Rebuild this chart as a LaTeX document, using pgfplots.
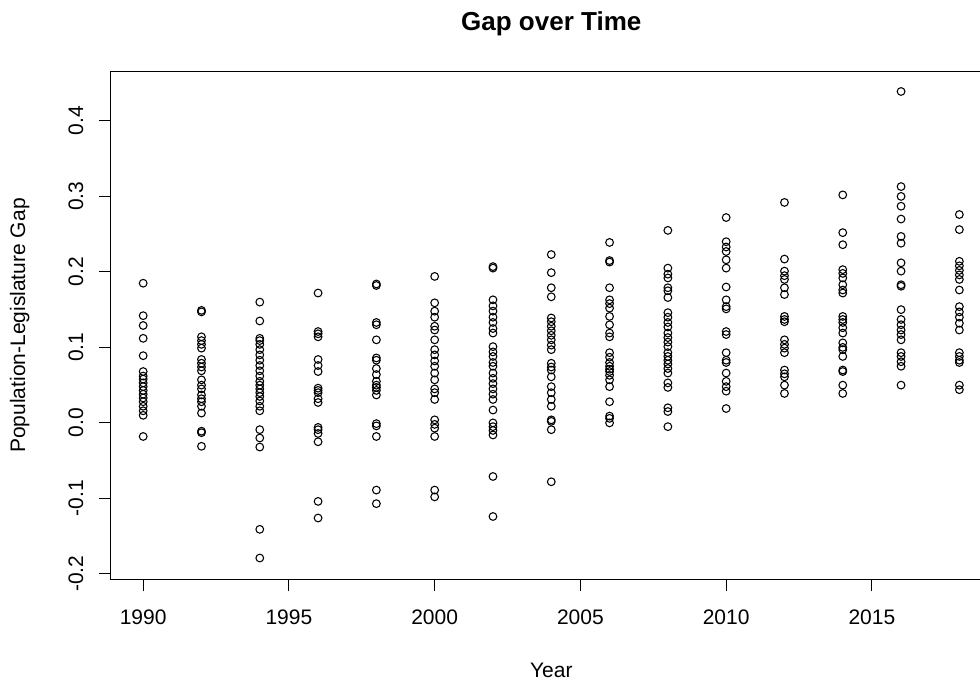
\documentclass[border=0pt]{standalone}
\usepackage{fontspec}
\setmainfont{Liberation Sans}
\usepackage{pgfplots}
\pgfplotsset{compat=1.18}
\usepackage{pgfplotstable}

\pgfplotstableread{
year gap
1990 0.185
1990 0.142
1990 0.129
1990 0.112
1990 0.089
1990 0.068
1990 0.062
1990 0.058
1990 0.053
1990 0.048
1990 0.043
1990 0.038
1990 0.033
1990 0.028
1990 0.022
1990 0.016
1990 0.010
1990 -0.018
1992 0.149
1992 0.147
1992 0.114
1992 0.109
1992 0.104
1992 0.099
1992 0.084
1992 0.079
1992 0.074
1992 0.069
1992 0.057
1992 0.050
1992 0.045
1992 0.037
1992 0.032
1992 0.028
1992 0.022
1992 0.013
1992 -0.011
1992 -0.013
1992 -0.031
1994 0.160
1994 0.135
1994 0.112
1994 0.109
1994 0.104
1994 0.097
1994 0.090
1994 0.083
1994 0.076
1994 0.069
1994 0.062
1994 0.055
1994 0.050
1994 0.045
1994 0.040
1994 0.035
1994 0.029
1994 0.022
1994 0.016
1994 -0.009
1994 -0.020
1994 -0.032
1994 -0.141
1994 -0.179
1996 0.172
1996 0.121
1996 0.118
1996 0.114
1996 0.084
1996 0.076
1996 0.068
1996 0.046
1996 0.043
1996 0.040
1996 0.032
1996 0.027
1996 -0.006
1996 -0.009
1996 -0.014
1996 -0.025
1996 -0.104
1996 -0.126
1998 0.184
1998 0.182
1998 0.133
1998 0.130
1998 0.110
1998 0.086
1998 0.083
1998 0.072
1998 0.064
1998 0.055
1998 0.050
1998 0.047
1998 0.043
1998 0.037
1998 -0.001
1998 -0.004
1998 -0.018
1998 -0.089
1998 -0.107
2000 0.194
2000 0.159
2000 0.148
2000 0.140
2000 0.128
2000 0.123
2000 0.110
2000 0.097
2000 0.090
2000 0.082
2000 0.075
2000 0.066
2000 0.057
2000 0.045
2000 0.040
2000 0.031
2000 0.004
2000 -0.002
2000 -0.007
2000 -0.018
2000 -0.089
2000 -0.098
2002 0.207
2002 0.205
2002 0.163
2002 0.155
2002 0.148
2002 0.140
2002 0.133
2002 0.125
2002 0.119
2002 0.101
2002 0.094
2002 0.088
2002 0.080
2002 0.075
2002 0.066
2002 0.059
2002 0.052
2002 0.045
2002 0.038
2002 0.031
2002 0.017
2002 0.000
2002 -0.005
2002 -0.010
2002 -0.016
2002 -0.071
2002 -0.124
2004 0.223
2004 0.199
2004 0.179
2004 0.167
2004 0.139
2004 0.134
2004 0.128
2004 0.122
2004 0.116
2004 0.110
2004 0.103
2004 0.097
2004 0.079
2004 0.074
2004 0.070
2004 0.061
2004 0.048
2004 0.040
2004 0.031
2004 0.022
2004 0.004
2004 0.002
2004 -0.009
2004 -0.078
2006 0.239
2006 0.215
2006 0.213
2006 0.179
2006 0.163
2006 0.158
2006 0.152
2006 0.141
2006 0.130
2006 0.119
2006 0.114
2006 0.093
2006 0.087
2006 0.080
2006 0.075
2006 0.071
2006 0.068
2006 0.063
2006 0.057
2006 0.048
2006 0.028
2006 0.009
2006 0.006
2006 0.000
2008 0.255
2008 0.205
2008 0.197
2008 0.192
2008 0.179
2008 0.175
2008 0.166
2008 0.146
2008 0.140
2008 0.133
2008 0.127
2008 0.119
2008 0.113
2008 0.107
2008 0.101
2008 0.093
2008 0.088
2008 0.083
2008 0.078
2008 0.072
2008 0.066
2008 0.053
2008 0.047
2008 0.020
2008 0.015
2008 -0.005
2010 0.272
2010 0.240
2010 0.233
2010 0.227
2010 0.216
2010 0.205
2010 0.180
2010 0.163
2010 0.154
2010 0.151
2010 0.121
2010 0.117
2010 0.093
2010 0.083
2010 0.080
2010 0.066
2010 0.055
2010 0.048
2010 0.042
2010 0.019
2012 0.292
2012 0.217
2012 0.201
2012 0.195
2012 0.190
2012 0.179
2012 0.170
2012 0.141
2012 0.137
2012 0.134
2012 0.110
2012 0.104
2012 0.099
2012 0.093
2012 0.070
2012 0.065
2012 0.061
2012 0.050
2012 0.039
2014 0.302
2014 0.252
2014 0.236
2014 0.203
2014 0.198
2014 0.192
2014 0.183
2014 0.176
2014 0.172
2014 0.141
2014 0.137
2014 0.133
2014 0.126
2014 0.119
2014 0.106
2014 0.100
2014 0.097
2014 0.088
2014 0.070
2014 0.068
2014 0.050
2014 0.039
2016 0.439
2016 0.313
2016 0.300
2016 0.287
2016 0.270
2016 0.247
2016 0.238
2016 0.212
2016 0.201
2016 0.183
2016 0.181
2016 0.150
2016 0.137
2016 0.130
2016 0.123
2016 0.117
2016 0.110
2016 0.093
2016 0.088
2016 0.081
2016 0.075
2016 0.050
2018 0.276
2018 0.256
2018 0.214
2018 0.208
2018 0.202
2018 0.196
2018 0.190
2018 0.176
2018 0.154
2018 0.147
2018 0.140
2018 0.132
2018 0.123
2018 0.093
2018 0.088
2018 0.083
2018 0.080
2018 0.050
2018 0.044
}\gapdata

\begin{document}
\begin{tikzpicture}
\begin{axis}[
  at={(0,0)}, anchor=south west,
  scale only axis,
  width=661.1pt, height=380.25pt,
  xmin=1988.88, xmax=2019.12,
  ymin=-0.2068, ymax=0.4648,
  axis line style={black, line width=0.75pt},
  tick pos=left,
  tick align=outside,
  major tick length=9pt,
  tick style={black, line width=0.75pt},
  xtick={1990,1995,2000,2005,2010,2015},
  xticklabels={1990,1995,2000,2005,2010,2015},
  ytick={-0.2,-0.1,0,0.1,0.2,0.3,0.4},
  yticklabels={-0.2,-0.1,0.0,0.1,0.2,0.3,0.4},
  tick label style={font=\fontsize{15.75}{18}\selectfont},
  xticklabel style={anchor=base, yshift=-25pt},
  yticklabel style={xshift=-11.6pt, rotate=90, anchor=base},
  title={Gap over Time},
  title style={at={(axis description cs:0.5,1.066)}, anchor=base, font=\fontsize{19.5}{23}\selectfont\bfseries},
  xlabel={Year},
  xlabel style={at={(axis description cs:0.5,-0.1933)}, anchor=base, font=\fontsize{15.75}{18}\selectfont},
  ylabel={Population-Legislature Gap},
  ylabel style={at={(axis description cs:-0.097,0.5)}, anchor=base, font=\fontsize{15.75}{18}\selectfont},
]
\addplot[only marks, mark=o, mark size=2.9pt, black, line width=0.8pt,
  mark options={line width=0.8pt}] table[x=year, y=gap] {\gapdata};
\end{axis}
\pgfresetboundingbox
\useasboundingbox (-82.9pt,-79.5pt) rectangle (652.1pt,434.25pt);
\end{tikzpicture}
\end{document}
